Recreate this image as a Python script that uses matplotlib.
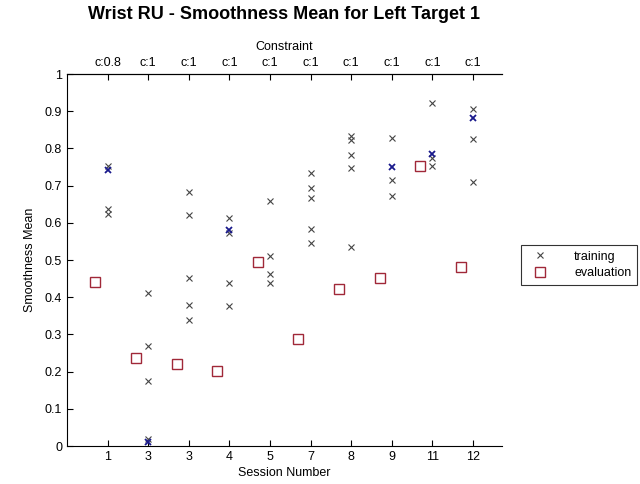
import numpy as np
import matplotlib
matplotlib.use("Agg")
import matplotlib.pyplot as plt

plt.rcParams["font.family"] = ["Liberation Sans", "DejaVu Sans"]

# 세션 라벨 / 제약 라벨
sessions = ["1", "3", "3", "4", "5", "7", "8", "9", "11", "12"]
constraints = ["c:0.8", "c:1", "c:1", "c:1", "c:1", "c:1", "c:1", "c:1", "c:1", "c:1"]

# training 값 (세션별)
training = [
    [0.754, 0.638, 0.625],
    [0.411, 0.270, 0.174, 0.020],
    [0.682, 0.620, 0.451, 0.380, 0.338],
    [0.614, 0.573, 0.439, 0.377],
    [0.659, 0.511, 0.462, 0.437],
    [0.734, 0.693, 0.666, 0.583, 0.546],
    [0.834, 0.824, 0.783, 0.747, 0.535],
    [0.828, 0.716, 0.671],
    [0.922, 0.774, 0.753],
    [0.906, 0.825, 0.711],
]
# 겹쳐 진하게 보이는 점 (파란색)
training_dark = [0.741, 0.012, None, 0.580, None, None, None, 0.751, 0.785, 0.883]
evaluation = [0.442, 0.237, 0.220, 0.202, 0.495, 0.287, 0.422, 0.451, 0.753, 0.482]

fig = plt.figure(figsize=(6.4, 4.84), dpi=100)
ax = fig.add_axes([0.1047, 0.0785, 0.6793, 0.7685])

pos = np.arange(1, len(sessions) + 1)
first = True
for p, vals in zip(pos, training):
    ax.plot([p] * len(vals), vals, ls="none", marker="x", ms=4, mew=0.8,
            color="#444444", label="training" if first else None)
    first = False
for p, v in zip(pos, training_dark):
    if v is not None:
        ax.plot([p], [v], ls="none", marker="x", ms=4, mew=1.3, color="#1a1a8c")
ax.plot(pos - 0.3, evaluation, ls="none", marker="s", ms=7, mew=1.0,
        mfc="white", mec="#a02838", label="evaluation")

ax.set_xlim(0, 10.71)
ax.set_ylim(0, 1)
ax.set_xticks(pos)
ax.set_xticklabels(sessions)
ax.set_yticks(np.arange(0, 1.01, 0.1))
ax.set_yticklabels(["0", "0.1", "0.2", "0.3", "0.4", "0.5", "0.6", "0.7", "0.8", "0.9", "1"])
ax.tick_params(direction="in", length=4, labelsize=9, width=0.8,
               top=False, labeltop=False, bottom=True)
ax.spines["right"].set_visible(False)
for s in ["left", "bottom", "top"]:
    ax.spines[s].set_linewidth(0.8)

sec = ax.secondary_xaxis("top")
sec.set_xticks(pos)
sec.set_xticklabels(constraints)
sec.tick_params(direction="in", length=4, labelsize=9, width=0.8)
sec.set_xlabel("Constraint", fontsize=9, labelpad=5)

ax.set_xlabel("Session Number", fontsize=9, labelpad=3)
ax.set_ylabel("Smoothness Mean", fontsize=9, labelpad=6)
ax.set_title("Wrist RU - Smoothness Mean for Left Target 1",
             fontsize=13, fontweight="bold", pad=16)

leg = ax.legend(loc="upper left", bbox_to_anchor=(1.03, 0.557), fontsize=9,
                frameon=True, fancybox=False, edgecolor="black",
                handletextpad=1.6, handlelength=2.2, borderpad=0.45,
                labelspacing=0.35)
leg.get_frame().set_linewidth(0.8)

fig.savefig("out.png", dpi=100)
